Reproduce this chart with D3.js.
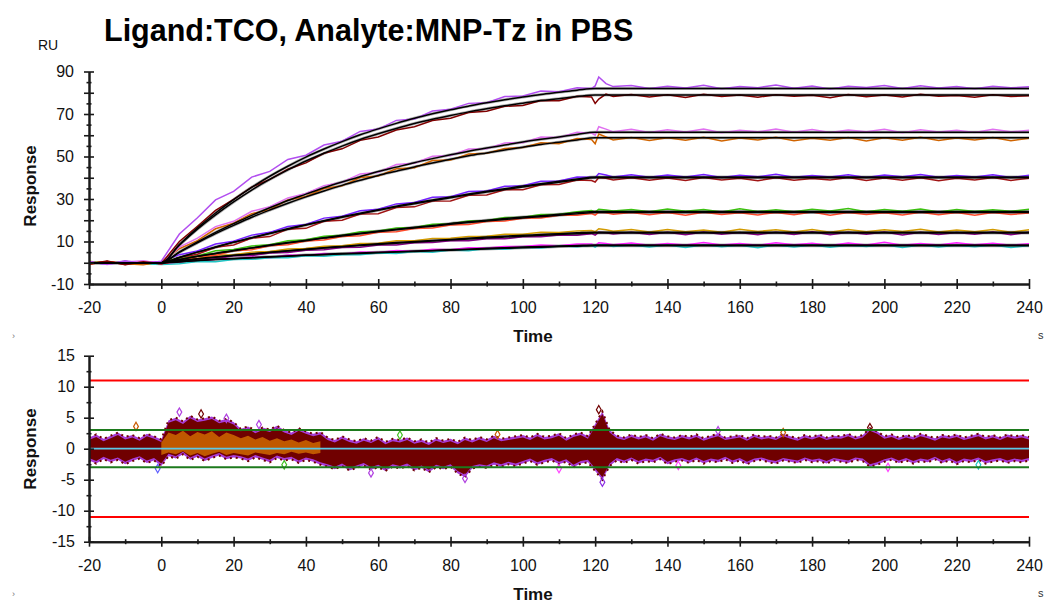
<!DOCTYPE html>
<html>
<head>
<meta charset="utf-8">
<script src="https://cdn.jsdelivr.net/npm/d3@7"></script>
<style>
  body { margin: 0; background: #fff; }
  svg { display: block; }
  text { font-family: Arial, 'Liberation Sans', sans-serif; }
</style>
</head>
<body>
<svg id="chart"></svg>
<script>
const width = 1046, height = 604;

// sensorgram sample times (s)
const times = [-20,-15,-10,-5,0,5,10,15,20,25,30,35,40,45,50,55,60,65,70,75,80,85,90,95,100,105,110,115,
  119,120,121,123,125,130,135,140,145,150,155,160,165,170,175,180,185,190,195,200,205,210,215,220,225,230,235,240];

// measured curves (RU), two replicates per concentration
const traceA1 = [0.6,-0.7,0.9,-0.4,0.7, 13.5,21.2,29.6,33.6,40.3,43.0,48.6,50.6,55.4,57.2,61.8,62.9,67.0,67.6,71.4,72.2,75.0,75.3,78.2,78.5,80.8,80.5,82.4,
  82.0,83.2,87.4,84.3,82.9, 83.4,82.0,83.1,82.2,83.5,81.9,82.9,82.4,83.6,82.1,83.2,81.8,83.0,82.5,83.4,82.0,83.3,82.2,82.9,81.9,83.1,82.3,82.8];
const traceA2 = [-0.6,0.8,-0.9,0.5,-0.4, 10.0,17.2,24.6,29.8,35.6,39.2,44.0,47.0,51.5,53.6,57.6,59.2,62.5,64.0,66.9,68.0,70.7,71.3,73.6,74.0,76.3,76.2,78.3,
  78.0,75.0,77.0,79.4,78.3, 79.2,78.0,79.0,77.8,79.3,78.2,78.9,77.9,79.1,78.4,78.8,77.7,79.2,78.1,78.9,78.0,79.3,78.3,78.7,77.9,79.0,78.2,78.6];
const traceB1 = [0.5,-0.8,0.4,0.9,-0.5, 7.4,11.6,17.0,19.5,24.2,26.4,30.5,32.6,36.3,37.9,41.8,42.6,46.2,46.8,50.1,50.5,53.5,53.7,56.4,56.5,59.2,59.0,61.4,
  61.0,60.0,64.0,62.9,61.6, 62.8,61.3,62.6,61.5,62.9,61.2,62.4,61.6,62.9,61.4,62.7,61.3,62.5,61.7,62.8,61.2,62.6,61.5,62.4,61.3,62.8,61.6,62.3];
const traceB2 = [-0.7,0.6,-0.5,-0.9,0.4, 6.6,10.4,16.0,18.6,23.1,25.0,29.5,31.2,34.9,36.2,40.1,40.8,44.2,44.7,48.1,48.3,51.2,51.5,53.8,54.2,56.5,56.0,58.5,
  58.0,56.0,60.6,59.2,57.8, 58.9,57.5,58.8,57.6,59.0,57.3,58.7,57.8,59.1,57.4,58.6,57.7,58.9,57.3,58.8,57.6,59.0,57.5,58.7,57.8,58.9,57.4,58.6];
const traceC1 = [0.4,-0.7,0.6,-0.5,0.5, 3.8,5.5,8.8,10.1,13.0,14.3,17.1,18.0,21.0,21.9,24.5,25.2,27.7,28.4,30.8,31.1,33.5,33.8,36.0,36.2,38.3,38.5,40.4,
  40.2,40.0,42.0,41.3,40.4, 41.4,40.2,41.3,40.4,41.5,40.1,41.2,40.5,41.6,40.2,41.1,40.3,41.4,40.1,41.3,40.5,41.5,40.2,41.0,40.4,41.4,40.1,41.2];
const traceC2 = [-0.5,0.6,-0.8,0.5,-0.6, 2.5,4.0,7.3,8.4,11.6,12.3,15.8,16.2,19.5,20.0,22.9,23.1,26.0,26.3,29.0,29.1,31.8,31.9,34.3,34.4,36.7,36.8,38.9,
  38.7,38.0,40.1,39.8,39.0, 40.0,38.8,39.9,38.7,40.1,38.9,39.8,38.6,40.0,38.8,39.7,38.9,40.1,38.7,39.9,38.8,40.0,38.6,39.8,38.9,40.1,38.7,39.8];
const traceD1 = [0.6,-0.5,0.7,-0.6,0.4, 2.4,3.2,5.6,6.2,7.9,8.5,10.3,10.8,12.5,12.9,14.6,14.9,16.4,16.6,18.1,18.3,19.7,19.9,21.3,21.4,22.7,22.8,24.0,
  24.6,23.8,25.2,24.8,24.3, 25.1,24.0,25.3,24.2,25.0,23.9,25.4,24.1,24.9,24.0,25.2,24.3,25.5,24.0,25.0,24.2,25.3,23.9,25.1,24.1,24.9,24.2,25.2];
const traceD2 = [-0.6,0.5,-0.4,0.6,-0.5, 0.9,2.9,3.4,5.7,6.1,8.0,8.5,10.2,10.7,12.4,12.7,14.3,14.6,16.1,16.3,17.8,18.0,19.4,19.6,20.9,21.1,22.3,22.4,
  23.2,22.4,23.8,23.5,22.8, 23.7,22.6,23.6,22.4,23.8,22.7,23.5,22.5,23.7,22.6,23.9,22.4,23.6,22.7,23.5,22.5,23.8,22.6,23.6,22.4,23.7,22.7,23.4];
const traceE1 = [0.7,-0.4,0.5,-0.7,0.5, 1.7,2.0,3.6,3.8,5.0,5.3,6.5,6.7,7.8,8.0,9.1,9.2,10.4,10.4,11.4,11.5,12.4,12.5,13.4,13.4,14.3,14.2,15.0,
  15.2,14.6,16.0,15.5,14.8, 15.6,14.5,15.7,14.6,15.4,14.4,15.8,14.7,15.5,14.5,15.6,14.4,15.7,14.6,15.5,14.7,15.8,14.5,15.4,14.6,15.6,14.4,15.5];
const traceE2 = [-0.5,0.6,-0.6,0.4,-0.3, 0.3,1.8,1.8,3.3,3.4,4.6,4.8,5.9,6.1,7.2,7.3,8.4,8.4,9.4,9.5,10.4,10.4,11.3,11.3,12.2,12.2,13.0,13.0,
  13.7,13.0,14.4,14.1,13.5, 14.4,13.3,14.3,13.2,14.5,13.4,14.2,13.2,14.4,13.3,14.6,13.2,14.3,13.4,14.5,13.1,14.4,13.3,14.2,13.4,14.5,13.2,14.3];
const traceF1 = [0.3,-0.7,0.4,-0.5,-0.8, -0.5,0.6,0.5,1.5,1.6,2.4,2.4,3.3,3.1,3.8,3.8,4.6,4.4,5.3,5.0,6.0,5.6,6.7,6.3,7.3,7.0,7.9,7.5,
  8.2,7.4,8.5,8.3,7.6, 8.4,7.4,8.3,7.2,8.5,7.5,8.2,7.1,8.4,7.4,8.3,7.3,8.2,7.6,8.5,7.2,8.3,7.4,8.2,7.5,8.4,7.2,8.1];
const traceF2 = [-0.6,0.5,-0.4,0.6,0.2, 0.7,0.8,1.7,1.7,2.7,2.4,3.6,3.4,4.4,4.0,5.1,4.8,5.8,5.4,6.4,6.1,7.1,6.9,7.6,7.6,8.3,8.0,8.8,
  8.8,8.1,9.4,9.1,8.5, 9.3,8.2,9.1,8.4,9.5,8.3,9.0,8.2,9.4,8.5,9.2,8.1,9.3,8.4,9.6,8.2,9.1,8.3,9.4,8.5,9.2,8.2,9.0];

const traceColors = ['#b24ef0','#800000','#e070f0','#d06400','#7420ff','#a01414',
  '#3cc010','#ff4a2a','#d29a00','#820082','#20c4c4','#ff20ff'];

// fitted curves (RU)
const fitTimes = [-20,0,5,10,15,20,25,30,35,40,45,50,55,60,65,70,75,80,85,90,95,100,105,110,115,120,240];
const fitA1 = [0,0,8.6,16.4,23.4,29.7,35.5,40.7,45.4,49.7,53.5,57.0,60.2,63.0,65.6,68.0,70.1,72.0,73.7,75.3,76.7,78.0,79.2,80.2,81.2,82.0,82.0];
const fitA2 = [0,0,8.3,15.8,22.5,28.6,34.2,39.2,43.7,47.9,51.5,54.9,58.0,60.7,63.2,65.5,67.5,69.3,71.0,72.5,73.9,75.1,76.3,77.2,78.2,79.0,79.0];
const fitB1 = [0,0,5.1,9.8,14.3,18.4,22.3,25.9,29.3,32.3,35.3,38.0,40.5,42.9,45.0,47.1,49.0,50.8,52.5,54.0,55.4,56.8,58.1,59.2,60.4,61.4,61.4];
const fitB2 = [0,0,4.9,9.4,13.7,17.6,21.4,24.8,28.0,31.0,33.8,36.4,38.8,41.1,43.1,45.1,46.9,48.7,50.3,51.7,53.1,54.4,55.7,56.7,57.8,58.8,58.8];
const fitC1 = [0,0,2.5,5.0,7.4,9.7,11.8,13.9,16.0,17.9,19.8,21.6,23.3,24.9,26.6,28.1,29.5,30.9,32.3,33.6,34.8,36.1,37.2,38.3,39.4,40.4,40.4];
const fitC2 = [0,0,2.5,5.0,7.3,9.6,11.7,13.8,15.8,17.7,19.6,21.4,23.1,24.7,26.3,27.8,29.2,30.6,32.0,33.3,34.5,35.7,36.8,37.9,39.0,40.0,40.0];
const fitD1 = [0,0,1.5,3.1,4.4,5.8,7.0,8.3,9.5,10.6,11.8,12.9,13.9,14.9,15.8,16.7,17.5,18.5,19.3,20.0,20.8,21.5,22.1,22.8,23.5,24.1,24.1];
const fitD2 = [0,0,1.5,3.0,4.3,5.7,6.9,8.1,9.3,10.4,11.6,12.6,13.6,14.6,15.5,16.4,17.2,18.1,18.9,19.6,20.4,21.1,21.7,22.4,23.0,23.6,23.6];
const fitE1 = [0,0,0.9,1.9,2.7,3.5,4.2,4.9,5.7,6.4,7.1,7.7,8.3,8.9,9.5,10.0,10.5,11.0,11.5,12.1,12.5,12.9,13.3,13.7,14.1,14.4,14.4];
const fitE2 = [0,0,0.9,1.8,2.6,3.4,4.1,4.8,5.5,6.2,6.9,7.5,8.1,8.6,9.2,9.7,10.2,10.7,11.2,11.7,12.1,12.5,12.9,13.3,13.7,14.0,14.0];
const fitF1 = [0,0,0.5,1.0,1.6,2.0,2.4,2.8,3.2,3.6,4.0,4.3,4.6,4.9,5.2,5.5,5.8,6.1,6.4,6.8,7.1,7.4,7.6,7.9,8.1,8.3,8.3];
const fitF2 = [0,0,0.5,1.0,1.5,1.9,2.3,2.7,3.1,3.5,3.8,4.1,4.4,4.7,5.0,5.3,5.6,5.9,6.2,6.5,6.8,7.1,7.3,7.6,7.8,8.0,8.0];

// residual band (RU), every 2 s from -20 to 240
const resTimes = d3.range(-20, 241, 2);
const resUpper = [1.8,2.3,1.6,2.1,2.6,1.9,2.2,1.7,2.4,2.0, 1.5,
  4.6,5.0,4.4,5.3,4.7,4.9,5.2,4.5,4.8,4.3,
  3.2,3.6,2.9,3.4,3.1,3.7,3.0,2.6,3.3,2.8,2.4,2.7,
  1.8,1.4,2.0,1.5,1.2,1.7,1.3,1.9,1.1,1.6,1.4,1.8,1.2,1.5,1.0,1.7,1.3,1.6,1.1,1.8,1.4,1.9,1.5,2.1,1.6,1.8,2.0,
  2.2,1.8,2.4,1.9,2.1,2.5,1.7,2.3,2.6,2.0,
  4.0,6.0,3.0,
  2.1,1.8,2.3,1.9,2.2,1.7,2.4,2.0,1.8,2.2,1.9,2.3,1.7,2.1,2.4,1.8,2.0,2.2,1.7,2.3,1.9,2.1,1.8,2.4,2.0,1.7,2.2,1.9,2.3,1.8,2.1,2.0,2.4,1.9,2.2,
  3.3,2.8,
  2.0,2.3,1.8,2.2,1.9,2.4,2.1,1.7,2.2,2.0,2.3,1.8,2.1,2.4,1.9,2.2,1.8,2.3,2.0,2.2,1.9];
const resLower = [-1.9,-2.4,-1.7,-2.2,-1.8,-2.5,-2.0,-1.6,-2.3,-1.9, -2.8,
  -1.2,-1.6,-0.9,-1.8,-1.3,-2.0,-1.5,-1.1,-1.7,-1.4,
  -1.6,-2.0,-1.4,-1.8,-2.2,-1.5,-1.9,-1.7,-2.3,-1.8,-2.1,-2.6,
  -2.9,-3.3,-2.8,-3.5,-3.1,-2.7,-3.4,-3.0,-3.6,-2.9,-3.2,-2.8,-3.5,-3.1,-3.8,-3.0,-3.3,-2.9,-4.0,-4.6,-3.2,-2.9,-3.1,-2.6,-2.9,-2.5,-2.8,
  -2.4,-2.0,-2.6,-2.2,-1.9,-2.5,-2.1,-3.0,-2.4,-2.2,
  -3.6,-5.0,-2.8,
  -1.9,-2.3,-1.8,-2.4,-2.0,-2.2,-1.7,-2.5,-2.1,-1.9,-2.3,-1.8,-2.4,-2.0,-2.2,-1.7,-2.3,-1.9,-2.5,-2.0,-1.8,-2.2,-2.4,-1.9,-2.1,-2.3,-1.8,-2.2,-2.0,-2.4,-1.9,-2.1,-2.3,-1.8,-2.0,
  -2.9,-2.6,
  -2.1,-1.8,-2.3,-1.9,-2.4,-2.0,-2.2,-1.7,-2.3,-1.9,-2.5,-2.0,-2.2,-1.8,-2.4,-2.1,-1.9,-2.3,-2.0,-2.2,-1.9];
// orange replicate residuals during early association (t 0..44)
const orangeTimes = d3.range(0, 45, 2);
const orangeUpper = [1.0,2.6,2.2,2.9,2.0,2.7,2.3,2.8,1.9,2.6,2.2,1.7,2.1,1.5,1.9,1.3,1.7,1.2,1.5,1.0,1.4,0.9,1.2];
const orangeLower = [-1.0,-0.6,-0.9,-0.4,-1.1,-0.7,-1.2,-0.8,-0.5,-1.0,-0.7,-0.9,-1.1,-0.6,-0.8,-1.0,-0.7,-0.9,-0.5,-0.8,-0.6,-0.9,-0.7];
const outlierTimes = [5, 11, -7, -1, 18, 84, 121, 122, 154, 196, 143, 201, 34, 66, 27, 58, 172, 226, 110, 93];
const outlierValues = [5.9, 5.6, 3.6, -3.2, 4.9, -4.8, 6.3, -5.4, 2.9, 3.4, -2.7, -3.0, -2.6, 2.2, 3.9, -3.9, 2.6, -2.6, -3.2, 2.3];
const outlierColors = ['#b040e0','#700000','#c85a00','#6060ff','#b040e0','#b040e0','#700000','#8a2be2',
  '#b040e0','#700000','#ff44ff','#ff44ff','#40c020','#40c020','#b040e0','#b040e0','#c85a00','#20c4c4','#ff44ff','#c85a00'];
const limitLines = [11, -11];
const bandLines = [3, -3];

const svg = d3.select('#chart').attr('width', width).attr('height', height);
svg.append('rect').attr('width', width).attr('height', height).attr('fill', '#fff');

const x = d3.scaleLinear().domain([-20, 240]).range([89, 1029]);
const yTop = d3.scaleLinear().domain([-10, 90]).range([284, 71.5]);
const yRes = d3.scaleLinear().domain([-15, 15]).range([541.7, 355.7]);

// ---- top: sensorgrams ----
const traces = [traceA1, traceA2, traceB1, traceB2, traceC1, traceC2, traceD1, traceD2, traceE1, traceE2, traceF1, traceF2];
const fits = [fitA1, fitA2, fitB1, fitB2, fitC1, fitC2, fitD1, fitD2, fitE1, fitE2, fitF1, fitF2];

const traceLine = d3.line().x((d, i) => x(times[i])).y(d => yTop(d));
const fitLine = d3.line().x((d, i) => x(fitTimes[i])).y(d => yTop(d)).curve(d3.curveMonotoneX);

const gTop = svg.append('g');
fits.forEach(f => {
  gTop.append('path').attr('d', fitLine(f)).attr('fill', 'none')
    .attr('stroke', '#b4b4b4').attr('stroke-width', 3);
});
// lowest pairs first so upper curves sit on top
traces.slice().reverse().forEach((tr, k) => {
  const idx = traces.length - 1 - k;
  gTop.append('path').attr('d', traceLine(tr)).attr('fill', 'none')
    .attr('stroke', traceColors[idx]).attr('stroke-width', 1.5);
});
fits.forEach(f => {
  gTop.append('path').attr('d', fitLine(f)).attr('fill', 'none')
    .attr('stroke', '#000').attr('stroke-width', 1.5);
});

// ---- bottom: residuals ----
const gRes = svg.append('g');
const outerArea = d3.area().x((d, i) => x(resTimes[i])).y0((d, i) => yRes(resLower[i])).y1(d => yRes(d));
gRes.append('path').attr('d', outerArea(resUpper)).attr('fill', '#a83cd8');
const innerArea = d3.area().x((d, i) => x(resTimes[i]))
  .y0((d, i) => yRes(resLower[i] + 0.4)).y1(d => yRes(d - 0.4));
gRes.append('path').attr('d', innerArea(resUpper)).attr('fill', '#700000');
const orangeArea = d3.area().x((d, i) => x(orangeTimes[i]))
  .y0((d, i) => yRes(orangeLower[i])).y1(d => yRes(d));
gRes.append('path').attr('d', orangeArea(orangeUpper)).attr('fill', '#c05800');
// speckled edge: dark red dashes over the violet fringe
const edge = d3.line().x((d, i) => x(resTimes[i])).y(d => yRes(d));
[resUpper, resLower].forEach(arr => {
  gRes.append('path').attr('d', edge(arr)).attr('fill', 'none')
    .attr('stroke', '#700000').attr('stroke-width', 2).attr('stroke-dasharray', '2,4');
});

gRes.selectAll('.outlier').data(outlierTimes).join('path')
  .attr('transform', (d, i) => `translate(${x(d)},${yRes(outlierValues[i])})`)
  .attr('d', d3.symbol(d3.symbolDiamond, 20))
  .attr('fill', 'none').attr('stroke', (d, i) => outlierColors[i]).attr('stroke-width', 1.2);

gRes.append('line').attr('x1', x(-20)).attr('x2', x(240)).attr('y1', yRes(0)).attr('y2', yRes(0))
  .attr('stroke', '#5cc8e6').attr('stroke-width', 1.8);
gRes.selectAll('.band').data(bandLines).join('line')
  .attr('x1', x(-20)).attr('x2', x(240)).attr('y1', d => yRes(d)).attr('y2', d => yRes(d))
  .attr('stroke', '#1c7a1c').attr('stroke-width', 2);
gRes.selectAll('.limit').data(limitLines).join('line')
  .attr('x1', x(-20)).attr('x2', x(240)).attr('y1', d => yRes(d)).attr('y2', d => yRes(d))
  .attr('stroke', '#ff0000').attr('stroke-width', 2);

// ---- axes ----
const fmt = d => String(d);
function styleAxis(g, crossAttr, size) {
  g.attr('font-size', 16).attr('font-family', "Arial, 'Liberation Sans', sans-serif");
  g.select('.domain').attr('stroke', '#1a1a1a').attr('stroke-width', 2);
  g.selectAll('.tick line').attr('stroke', '#1a1a1a').attr('stroke-width', 1.6).attr(crossAttr, size);
  g.selectAll('.tick text').attr('fill', '#111');
}

function drawXAxis(yPos) {
  svg.append('g').attr('transform', `translate(0,${yPos})`)
    .call(d3.axisBottom(x).tickValues(d3.range(-10, 241, 20)).tickSize(2.5).tickSizeOuter(0).tickFormat(''))
    .call(g => styleAxis(g, 'y1', -2.5));
  svg.append('g').attr('transform', `translate(0,${yPos})`)
    .call(d3.axisBottom(x).tickValues(d3.range(-20, 241, 20)).tickSize(5).tickSizeOuter(0).tickPadding(13).tickFormat(fmt))
    .call(g => styleAxis(g, 'y1', -5));
}
drawXAxis(yTop(-10));
drawXAxis(yRes(-15));

svg.append('g').attr('transform', `translate(${x(-20)},0)`)
  .call(d3.axisLeft(yTop).tickValues(d3.range(-5, 90, 10)).tickSize(2.5).tickSizeOuter(0).tickFormat(''))
  .call(g => styleAxis(g, 'x1', 2.5));
svg.append('g').attr('transform', `translate(${x(-20)},0)`)
  .call(d3.axisLeft(yTop).tickValues(d3.range(-10, 91, 10)).tickSize(5).tickSizeOuter(0).tickPadding(10)
    .tickFormat(d => ((d + 10) % 20 === 0 ? String(d) : '')))
  .call(g => styleAxis(g, 'x1', 5));

svg.append('g').attr('transform', `translate(${x(-20)},0)`)
  .call(d3.axisLeft(yRes).tickValues(d3.range(-12.5, 13, 5)).tickSize(2.5).tickSizeOuter(0).tickFormat(''))
  .call(g => styleAxis(g, 'x1', 2.5));
svg.append('g').attr('transform', `translate(${x(-20)},0)`)
  .call(d3.axisLeft(yRes).tickValues(d3.range(-15, 16, 5)).tickSize(5).tickSizeOuter(0).tickPadding(9).tickFormat(fmt))
  .call(g => styleAxis(g, 'x1', 5));

// ---- labels ----
svg.append('text').attr('x', 104).attr('y', 41).attr('font-size', 30.5).attr('font-weight', 'bold')
  .attr('fill', '#000').text('Ligand:TCO, Analyte:MNP-Tz in PBS');
svg.append('text').attr('x', 38).attr('y', 50).attr('font-size', 14).attr('fill', '#111').text('RU');

[186, 449].forEach(cy => {
  svg.append('text').attr('transform', `translate(36,${cy}) rotate(-90)`)
    .attr('text-anchor', 'middle').attr('font-size', 17).attr('font-weight', 'bold')
    .attr('fill', '#111').text('Response');
});
[342, 600].forEach(by => {
  svg.append('text').attr('x', 533).attr('y', by).attr('text-anchor', 'middle')
    .attr('font-size', 17).attr('font-weight', 'bold').attr('fill', '#111').text('Time');
  svg.append('text').attr('x', 1038).attr('y', by - 3).attr('font-size', 11).attr('fill', '#333').text('s');
  svg.append('text').attr('x', 12).attr('y', by - 3).attr('font-size', 9).attr('fill', '#777').text('›');
});
</script>
</body>
</html>
